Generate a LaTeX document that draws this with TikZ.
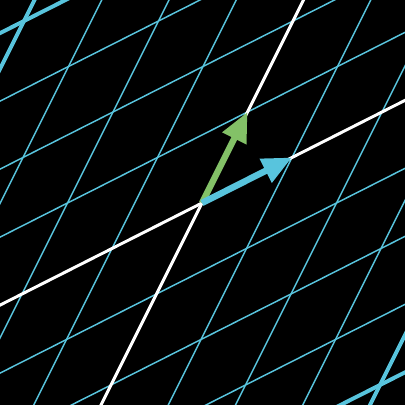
\documentclass[tikz,border=0pt]{standalone}
\usetikzlibrary{arrows.meta}
\definecolor{gridblue}{HTML}{58C4DD}
\definecolor{vecgreen}{HTML}{83C167}

\begin{document}
\begin{tikzpicture}[x={(2.25cm,1.1375cm)}, y={(1.1375cm,2.275cm)},
  gridline/.style={gridblue, line width=1.05pt},
  edgeline/.style={gridblue, line width=2.8pt},
  axisline/.style={white, line width=2.1pt},
  basisvec/.style={line width=4.6pt, -{Triangle[length=21pt, width=18pt]}}]
  % ---------------------------------------------------------------- background and frame
  \fill[black] (-5.05cm,-5.05cm) rectangle (5.075cm,5.075cm);
  \useasboundingbox (-5.05cm,-5.05cm) rectangle (5.075cm,5.075cm);
  \clip (-5.05cm,-5.05cm) rectangle (5.075cm,5.075cm);
  % ---------------------------------------------------------------- transformed grid
  \foreach \k in {-7,...,-1,1,2,...,7} {
    \draw[gridline] (\k,-8) -- (\k,8);
    \draw[gridline] (-8,\k) -- (8,\k);
  }
  % the lines four steps out are drawn heavier
  \foreach \k in {-4,4} {
    \draw[edgeline] (\k,-8) -- (\k,8);
    \draw[edgeline] (-8,\k) -- (8,\k);
  }
  % ---------------------------------------------------------------- axes
  \draw[axisline] (-8,0) -- (8,0);
  \draw[axisline] (0,-8) -- (0,8);
  % ---------------------------------------------------------------- basis vectors
  \coordinate (O) at (0,0);
  \coordinate (ihat) at (1,0);
  \coordinate (jhat) at (0,1);
  \draw[basisvec, vecgreen] (O) -- (jhat);
  \draw[basisvec, gridblue] (O) -- (ihat);
\end{tikzpicture}
\end{document}
